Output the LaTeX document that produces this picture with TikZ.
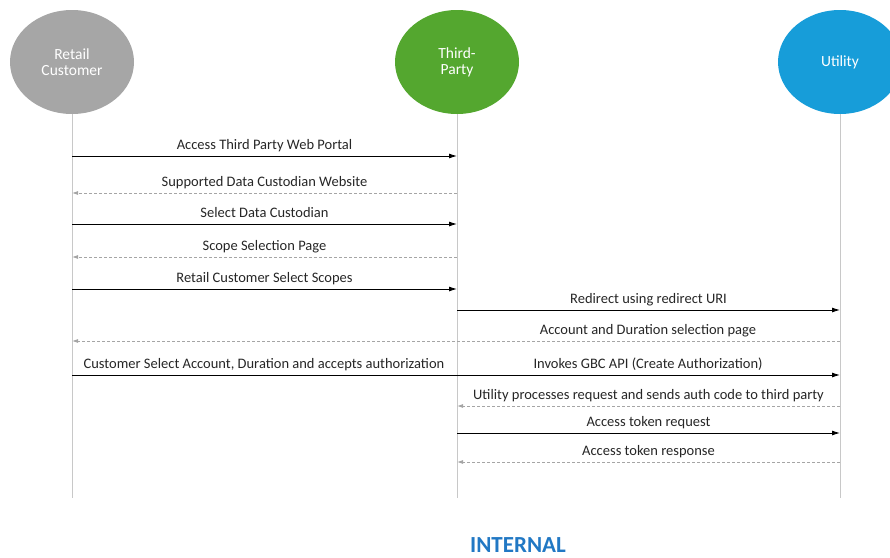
\documentclass[tikz,border=0pt]{standalone}
\usepackage{fontspec}
\setmainfont{Carlito}
\usetikzlibrary{arrows.meta,positioning,shapes.geometric}
\definecolor{retailgray}{RGB}{166,166,166}
\definecolor{thirdgreen}{RGB}{84,167,47}
\definecolor{utilblue}{RGB}{23,157,217}
\definecolor{lifegray}{RGB}{200,200,200}
\definecolor{replygray}{RGB}{165,165,165}
\definecolor{internalblue}{RGB}{33,120,196}
\tikzset{
    %Define style for the actors
    actor/.style={
           ellipse,
           draw=none,
           minimum width=124pt,
           minimum height=104pt,
           inner sep=0pt, outer sep=0pt,
           text=white,
           align=center,
           font=\fontsize{15.5}{16}\selectfont},
    % lifelines below the actors
    lifeline/.style={draw=lifegray, line width=0.8pt},
    % Define arrow styles
    msg/.style={
           -{Latex[length=8pt,width=5pt]},
           line width=0.9pt},
    reply/.style={
           -{Latex[length=6pt,width=4pt]},
           draw=replygray,
           dash pattern=on 3pt off 2pt,
           line width=0.8pt},
    msglabel/.style={
           above=2pt,
           inner sep=1pt,
           text height=10pt, text depth=3.5pt,
           text=black!85,
           font=\fontsize{14.5}{17}\selectfont}
}
\begin{document}
\begin{tikzpicture}[x=1pt,y=1pt]
\useasboundingbox (0,0) rectangle (890,-557);

 %actors
\node[actor, fill=retailgray] (retail) at (72,-62) {Retail\\Customer};
\node[actor, fill=thirdgreen, right=261pt of retail] (third) {Third-\\Party};
\node[actor, fill=utilblue, right=259pt of third] (utility) {Utility};

 %lifelines
\foreach \a in {retail,third,utility}{
  \coordinate (\a-end) at (\a.south |- 0,-498);
  \draw[lifeline] (\a.south) -- (\a-end);
}

 %messages
\foreach \n/\y/\from/\to/\kind/\txt in {
    1/156/retail/third/msg/{Access Third Party Web Portal},
    2/193/third/retail/reply/{Supported Data Custodian Website},
    3/224/retail/third/msg/{Select Data Custodian},
    4/257/third/retail/reply/{Scope Selection Page},
    5/289/retail/third/msg/{Retail Customer Select Scopes},
    6/310/third/utility/msg/{Redirect using redirect URI},
    9/406/utility/third/reply/{Utility processes request and sends auth code to third party},
    10/433/third/utility/msg/{Access token request},
    11/462/utility/third/reply/{Access token response}}{
  \coordinate (m\n-a) at (\from |- 0,-\y);
  \coordinate (m\n-b) at (\to |- 0,-\y);
  \draw[\kind] (m\n-a) -- node[msglabel] {\txt} (m\n-b);
}

\coordinate (m7-a) at (utility |- 0,-341);
\coordinate (m7-b) at (retail |- 0,-341);
\draw[reply] (m7-a) -- node[msglabel, pos=0.25] {Account and Duration selection page} (m7-b);

\coordinate (m8-a) at (retail |- 0,-375);
\coordinate (m8-b) at (utility |- 0,-375);
\draw[msg] (m8-a) -- node[msglabel, pos=0.25] {Customer Select Account, Duration and accepts authorization}
    node[msglabel, pos=0.75] {Invokes GBC API (Create Authorization)} (m8-b);

\node[anchor=base, inner sep=0pt, text=internalblue, font=\fontsize{23}{26}\selectfont\bfseries] (internal) at (518,-552) {INTERNAL};
\end{tikzpicture}
\end{document}
